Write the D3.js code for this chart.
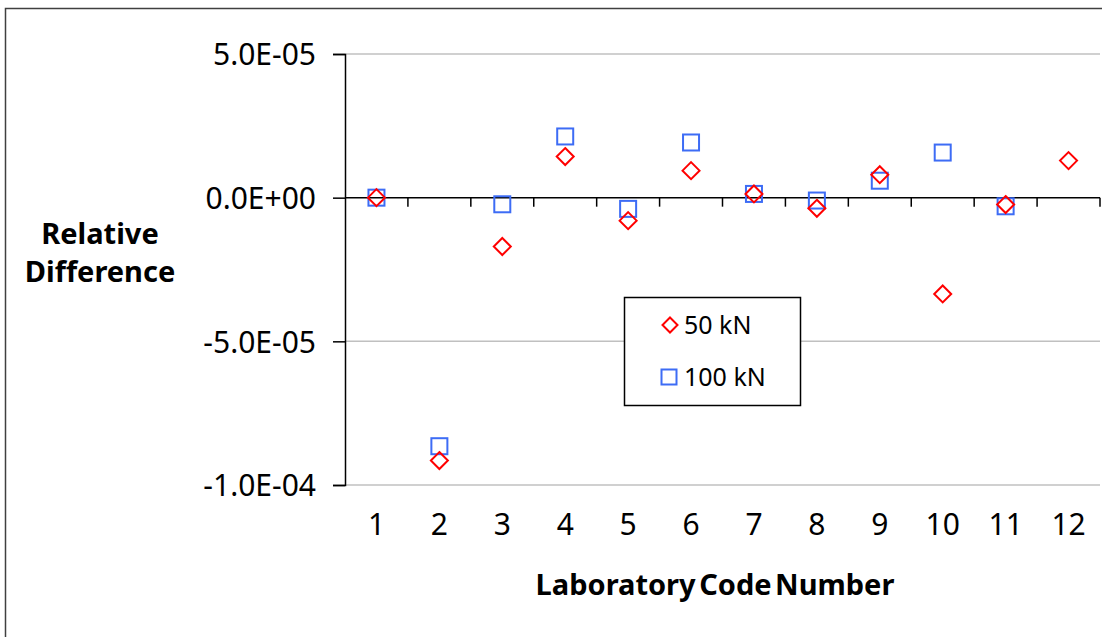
<!DOCTYPE html>
<html>
<head>
<meta charset="utf-8">
<script src="https://cdn.jsdelivr.net/npm/d3@7/dist/d3.min.js"></script>
<style>
  html, body { margin: 0; padding: 0; background: #fff; }
  svg { display: block; font-family: "Noto Sans", "Open Sans", sans-serif; }
</style>
</head>
<body>
<svg id="chart" width="1102" height="637"></svg>
<script>
const labs = ["1","2","3","4","5","6","7","8","9","10","11","12"];
const series50 = [0, -9.15e-5, -1.7e-5, 1.43e-5, -8.0e-6, 9.4e-6, 1.3e-6, -3.7e-6, 8.0e-6, -3.35e-5, -2.4e-6, 1.29e-5];
const series100 = [0, -8.65e-5, -2.3e-6, 2.13e-5, -3.9e-6, 1.92e-5, 1.3e-6, -1.0e-6, 5.9e-6, 1.57e-5, -3.0e-6, null];
const yTicks = [-1e-4, -5e-5, 0, 5e-5];
const seriesNames = ["50 kN", "100 kN"];

const svg = d3.select("#chart");

// outer border (extends past right/bottom edges as in reference)
svg.append("rect").attr("x", 5.5).attr("y", 8.5).attr("width", 1110).attr("height", 650)
  .attr("fill", "none").attr("stroke", "#404040").attr("stroke-width", 1.5);

const x = d3.scaleBand().domain(labs).range([345, 1100]).padding(0);
const y = d3.scaleLinear().domain([-1e-4, 5e-5]).range([485, 54]);

function fmt(v) {
  if (v === 0) return "0.0E+00";
  const e = Math.floor(Math.log10(Math.abs(v)) + 1e-9);
  const m = v / Math.pow(10, e);
  const es = (e < 0 ? "-" : "+") + String(Math.abs(e)).padStart(2, "0");
  return m.toFixed(1) + "E" + es;
}

// gridlines
svg.append("g").selectAll("line").data(yTicks.filter(d => d !== 0)).join("line")
  .attr("x1", 345).attr("x2", 1100)
  .attr("y1", d => y(d)).attr("y2", d => y(d))
  .attr("stroke", "#c0c0c0").attr("stroke-width", 1.5);

// y axis
const yAxis = svg.append("g").attr("transform", "translate(345,0)")
  .call(d3.axisLeft(y).tickValues(yTicks).tickSize(12).tickPadding(17).tickFormat(fmt));
yAxis.select(".domain").attr("stroke", "#000").attr("stroke-width", 1.5);
yAxis.selectAll(".tick line").attr("stroke", "#000").attr("stroke-width", 1.5);
yAxis.selectAll(".tick text").attr("font-size", 30).attr("fill", "#000")
  .attr("font-family", "Noto Sans, sans-serif").attr("dy", "0.36em");

// zero axis with category-boundary ticks
const y0 = y(0);
svg.append("line").attr("x1", 345).attr("x2", 1100).attr("y1", y0).attr("y2", y0)
  .attr("stroke", "#000").attr("stroke-width", 1.5);
const bounds = labs.map(d => x(d)).concat([x(labs[labs.length - 1]) + x.bandwidth()]);
svg.append("g").selectAll("line").data(bounds.slice(1)).join("line")
  .attr("x1", d => d).attr("x2", d => d).attr("y1", y0).attr("y2", y0 + 9)
  .attr("stroke", "#000").attr("stroke-width", 1.5);

// x labels
const xAxis = svg.append("g").attr("transform", "translate(0,485)")
  .call(d3.axisBottom(x).tickSize(0).tickPadding(0));
xAxis.select(".domain").remove();
xAxis.selectAll(".tick text").attr("font-size", 30).attr("fill", "#000")
  .attr("font-family", "Noto Sans, sans-serif").attr("dy", null).attr("y", 50);

// points
const sq = 16;
svg.append("g").selectAll("rect").data(labs.map((l, i) => [l, series100[i]]).filter(d => d[1] !== null)).join("rect")
  .attr("x", d => x(d[0]) + x.bandwidth() / 2 - sq / 2)
  .attr("y", d => y(d[1]) - sq / 2)
  .attr("width", sq).attr("height", sq)
  .attr("fill", "none").attr("stroke", "#3d6cf5").attr("stroke-width", 2);

const dm = 8.5;
const diamond = (cx, cy, r) => `M${cx},${cy - r}L${cx + r},${cy}L${cx},${cy + r}L${cx - r},${cy}Z`;
svg.append("g").selectAll("path").data(labs.map((l, i) => [l, series50[i]]).filter(d => d[1] !== null)).join("path")
  .attr("d", d => diamond(x(d[0]) + x.bandwidth() / 2, y(d[1]), dm))
  .attr("fill", "none").attr("stroke", "#ff0000").attr("stroke-width", 2);

// legend
const lg = svg.append("g");
lg.append("rect").attr("x", 624.5).attr("y", 297.5).attr("width", 176).attr("height", 108)
  .attr("fill", "#fff").attr("stroke", "#000").attr("stroke-width", 1.5);
lg.append("path").attr("d", diamond(670, 325, 7.5)).attr("fill", "none")
  .attr("stroke", "#ff0000").attr("stroke-width", 2);
lg.append("rect").attr("x", 661.5).attr("y", 369.5).attr("width", 15).attr("height", 15)
  .attr("fill", "none").attr("stroke", "#3d6cf5").attr("stroke-width", 2);
lg.append("text").attr("x", 684).attr("y", 334).attr("font-size", 25).attr("fill", "#000").text(seriesNames[0]);
lg.append("text").attr("x", 684).attr("y", 386).attr("font-size", 25).attr("fill", "#000").text(seriesNames[1]);

// axis titles
svg.append("text").attr("x", 715).attr("y", 595).attr("text-anchor", "middle")
  .attr("font-size", 29).attr("font-weight", "bold").attr("word-spacing", "-4px").attr("fill", "#000")
  .text("Laboratory Code Number");
svg.append("text").attr("x", 100).attr("y", 244).attr("text-anchor", "middle")
  .attr("font-size", 29).attr("font-weight", "bold").attr("fill", "#000").text("Relative");
svg.append("text").attr("x", 100).attr("y", 282).attr("text-anchor", "middle")
  .attr("font-size", 29).attr("font-weight", "bold").attr("fill", "#000").text("Difference");
</script>
</body>
</html>
